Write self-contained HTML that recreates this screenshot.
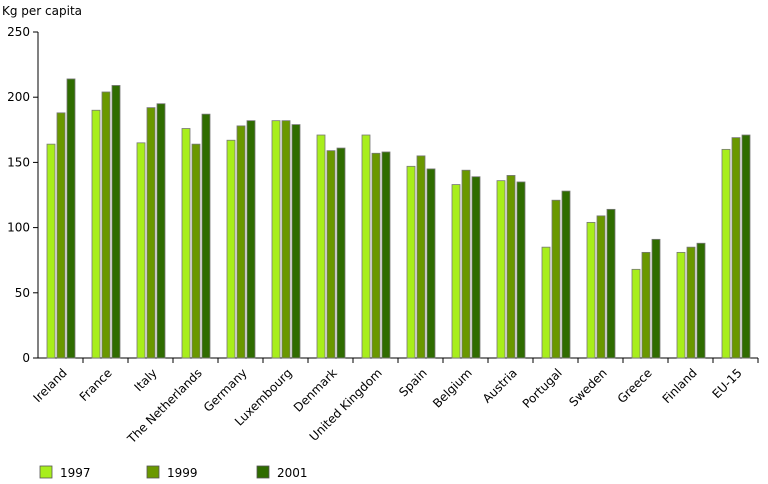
<!DOCTYPE html>
<html><head><meta charset="utf-8"><style>
body{margin:0;background:#fff;}
svg text{font-family:"DejaVu Sans","Liberation Sans",sans-serif;font-size:12px;fill:#000;}
</style></head><body>
<svg id="chart" width="768" height="479">
<text x="2" y="15">Kg per capita</text>
<g id="axes"></g><g id="bars"></g><g id="labels"></g>
<g>
<g><rect x="40" y="466" width="12" height="12" fill="#a8ee1c" stroke="#555" stroke-width="0.8"/><text x="60" y="477">1997</text></g>
<g><rect x="147" y="466" width="12" height="12" fill="#6a9800" stroke="#555" stroke-width="0.8"/><text x="167" y="477">1999</text></g>
<g><rect x="257" y="466" width="12" height="12" fill="#2f6c00" stroke="#555" stroke-width="0.8"/><text x="277" y="477">2001</text></g>
</g>
</svg>
<script>
const categories=["Ireland","France","Italy","The Netherlands","Germany","Luxembourg","Denmark","United Kingdom","Spain","Belgium","Austria","Portugal","Sweden","Greece","Finland","EU-15"];
const s1997=[164,190,165,176,167,182,171,171,147,133,136,85,104,68,81,160];
const s1999=[188,204,192,164,178,182,159,157,155,144,140,121,109,81,85,169];
const s2001=[214,209,195,187,182,179,161,158,145,139,135,128,114,91,88,171];
const yTicks=[0,50,100,150,200,250];
const NS="http://www.w3.org/2000/svg";
const x0=38,gw=45,y0=358,yTop=32,yMax=250;
const y=v=>y0-(v/yMax)*(y0-yTop);
const gx=i=>x0+i*gw;
function mk(t,a,p){const e=document.createElementNS(NS,t);for(const k in a)e.setAttribute(k,a[k]);p.appendChild(e);return e;}
const ax=document.getElementById('axes');
const yl=mk('line',{x1:x0,y1:yTop,x2:x0,y2:y0,stroke:'#000'},ax);


const xl=mk('line',{x1:x0-4,y1:y0,x2:gx(categories.length),y2:y0,stroke:'#000'},ax);


yTicks.forEach(v=>{
 mk('line',{x1:x0-5,y1:y(v),x2:x0,y2:y(v),stroke:'#000'},ax);
 const t=mk('text',{x:x0-8,y:y(v)+4,'text-anchor':'end'},ax);t.textContent=v;
 
 
});
const series=[[s1997,'#a8ee1c'],[s1999,'#6a9800'],[s2001,'#2f6c00']];
const bg=document.getElementById('bars'),lg=document.getElementById('labels');
categories.forEach((c,i)=>{
 mk('line',{x1:gx(i+1),y1:y0,x2:gx(i+1),y2:y0+5,stroke:'#000'},ax);
 series.forEach(([d,col],j)=>{
  const r=mk('rect',{x:gx(i)+9+j*10,y:y(d[i]),width:8,height:y0-y(d[i]),fill:col,stroke:'#777','stroke-width':0.8},bg);
  
  
 });
 const cx=gx(i)+24,cy=y0+10;
 const t=mk('text',{x:cx,y:cy+8,'text-anchor':'end',transform:`rotate(-45 ${cx} ${cy})`},lg);
 t.textContent=c;
 
 
});
</script>
</body></html>
